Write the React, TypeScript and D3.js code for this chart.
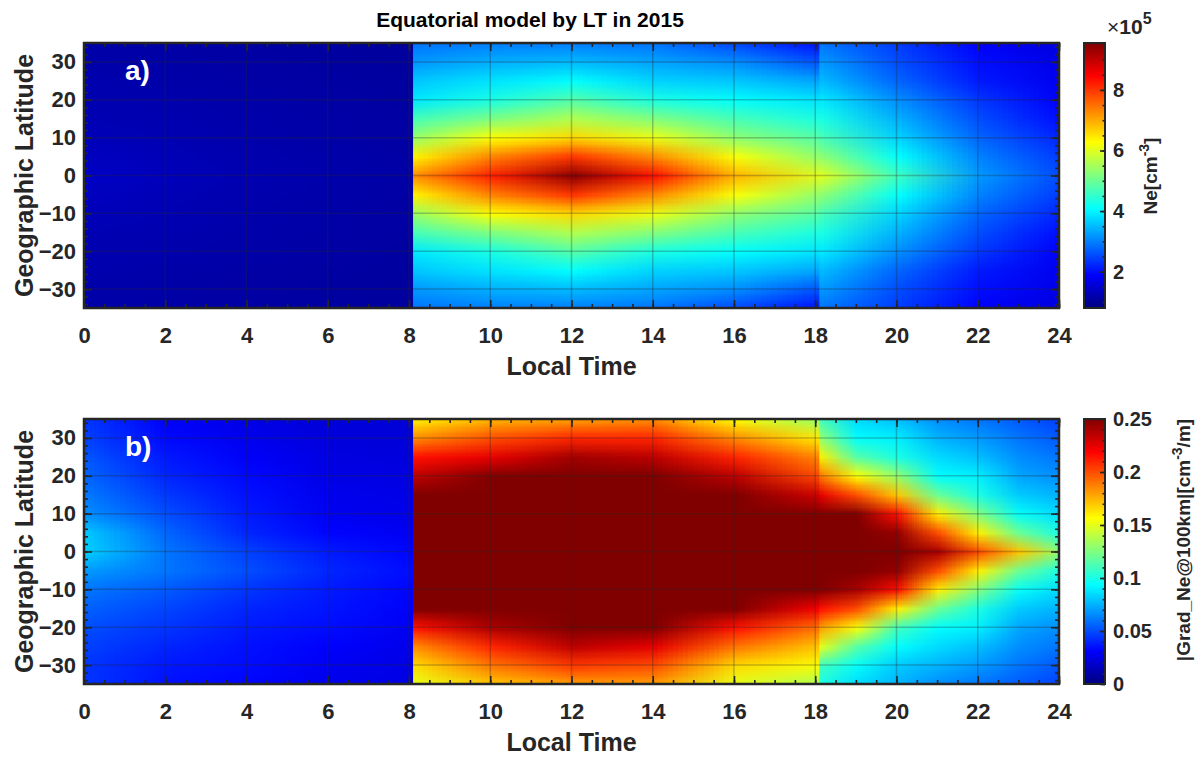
import React, { useEffect, useRef } from "react";
import * as d3 from "d3";

// latitude of each row in the value columns below (top to bottom)
const latNodes = [35, 30, 25, 20, 15, 10, 5, 0, -5, -10, -15, -20, -25, -30, -35];

// a) Ne [x1e5 cm^-3], one column per local time node
const neNightLT = [0, 4, 8.1];
const neNight = [
  [1.15, 1.17, 1.2, 1.22, 1.25, 1.3, 1.35, 1.4, 1.35, 1.3, 1.25, 1.22, 1.2, 1.17, 1.15],
  [1.1, 1.12, 1.13, 1.15, 1.17, 1.18, 1.2, 1.22, 1.2, 1.18, 1.17, 1.15, 1.13, 1.12, 1.1],
  [1.05, 1.06, 1.07, 1.08, 1.1, 1.1, 1.12, 1.13, 1.12, 1.1, 1.1, 1.08, 1.07, 1.06, 1.05],
];
const neDayLT = [8.1, 10, 12, 14, 16, 18.1];
const neDay = [
  [2.9, 3.2, 3.6, 3.9, 4.7, 5.4, 6.4, 7.26, 6.4, 5.4, 4.7, 3.9, 3.6, 3.2, 2.9],
  [2.98, 3.4, 3.85, 4.3, 5.17, 6.26, 7.35, 8.2, 7.35, 6.26, 5.17, 4.3, 3.85, 3.4, 2.98],
  [2.98, 3.5, 4.1, 4.8, 5.6, 6.6, 8.0, 9.45, 8.0, 6.6, 5.6, 4.8, 4.1, 3.5, 2.98],
  [2.9, 3.3, 3.7, 4.3, 5.2, 6.1, 7.26, 8.3, 7.26, 6.1, 5.2, 4.3, 3.7, 3.3, 2.9],
  [2.5, 3.1, 3.6, 4.1, 4.7, 5.3, 6.2, 6.9, 6.2, 5.3, 4.7, 4.1, 3.6, 3.1, 2.5],
  [2.0, 2.6, 3.3, 3.85, 4.3, 4.8, 5.3, 6.0, 5.3, 4.8, 4.3, 3.85, 3.3, 2.6, 2.0],
];
const neEveLT = [18.1, 20, 22, 24];
const neEve = [
  [2.9, 3.2, 3.5, 3.9, 4.3, 4.7, 5.3, 6.0, 5.3, 4.7, 4.3, 3.9, 3.5, 3.2, 2.9],
  [2.4, 2.55, 2.75, 3.1, 3.4, 3.7, 4.1, 4.6, 4.1, 3.7, 3.4, 3.1, 2.75, 2.55, 2.4],
  [1.85, 2.0, 2.1, 2.35, 2.55, 2.75, 3.0, 3.2, 3.0, 2.75, 2.55, 2.35, 2.1, 2.0, 1.85],
  [1.6, 1.7, 1.75, 1.85, 2.0, 2.2, 2.4, 2.55, 2.4, 2.2, 2.0, 1.85, 1.75, 1.7, 1.6],
];

// b) |Grad_Ne@100km| [cm^-3/m]
const gradNightLT = [0, 2, 4, 6, 8.1];
const gradNight = [
  [0.044, 0.047, 0.052, 0.056, 0.061, 0.066, 0.08, 0.082, 0.069, 0.06, 0.055, 0.05, 0.047, 0.044, 0.044],
  [0.03, 0.033, 0.037, 0.04, 0.045, 0.05, 0.056, 0.06, 0.06, 0.053, 0.048, 0.044, 0.04, 0.037, 0.035],
  [0.025, 0.027, 0.03, 0.033, 0.035, 0.0375, 0.04, 0.047, 0.05, 0.044, 0.04, 0.0375, 0.035, 0.034, 0.032],
  [0.022, 0.023, 0.024, 0.025, 0.027, 0.028, 0.032, 0.0375, 0.04, 0.0375, 0.036, 0.034, 0.031, 0.028, 0.027],
  [0.022, 0.022, 0.023, 0.024, 0.025, 0.026, 0.028, 0.032, 0.034, 0.032, 0.03, 0.028, 0.026, 0.025, 0.024],
];
const gradDayLT = [8.1, 10, 12, 14, 16, 18.1];
const gradDay = [
  [0.16, 0.185, 0.215, 0.235, 0.26, 0.28, 0.3, 0.3, 0.3, 0.28, 0.25, 0.215, 0.185, 0.165, 0.15],
  [0.175, 0.2, 0.225, 0.255, 0.28, 0.3, 0.3, 0.3, 0.3, 0.3, 0.27, 0.24, 0.21, 0.19, 0.17],
  [0.18, 0.21, 0.242, 0.27, 0.3, 0.3, 0.3, 0.3, 0.3, 0.3, 0.3, 0.26, 0.235, 0.205, 0.18],
  [0.185, 0.21, 0.235, 0.26, 0.3, 0.3, 0.3, 0.3, 0.3, 0.3, 0.28, 0.255, 0.225, 0.2, 0.18],
  [0.156, 0.185, 0.21, 0.235, 0.26, 0.3, 0.3, 0.3, 0.3, 0.28, 0.25, 0.215, 0.19, 0.165, 0.15],
  [0.13, 0.16, 0.185, 0.2, 0.23, 0.26, 0.3, 0.3, 0.3, 0.25, 0.22, 0.19, 0.17, 0.155, 0.135],
];
const gradEveLT = [18.1, 19, 20, 21, 22, 23, 24];
const gradEve = [
  [0.11, 0.13, 0.16, 0.19, 0.225, 0.27, 0.3, 0.3, 0.3, 0.25, 0.215, 0.18, 0.15, 0.11, 0.1],
  [0.085, 0.094, 0.115, 0.156, 0.2, 0.25, 0.28, 0.3, 0.28, 0.24, 0.2, 0.155, 0.115, 0.095, 0.085],
  [0.078, 0.09, 0.1, 0.13, 0.17, 0.215, 0.245, 0.27, 0.245, 0.215, 0.16, 0.11, 0.094, 0.081, 0.075],
  [0.066, 0.075, 0.085, 0.094, 0.12, 0.16, 0.2, 0.24, 0.2, 0.16, 0.12, 0.094, 0.085, 0.075, 0.066],
  [0.06, 0.069, 0.078, 0.09, 0.1, 0.125, 0.16, 0.2, 0.16, 0.125, 0.1, 0.09, 0.078, 0.069, 0.06],
  [0.053, 0.06, 0.066, 0.072, 0.081, 0.095, 0.12, 0.17, 0.12, 0.095, 0.081, 0.072, 0.066, 0.06, 0.053],
  [0.047, 0.053, 0.06, 0.066, 0.075, 0.085, 0.1, 0.13, 0.1, 0.085, 0.075, 0.066, 0.06, 0.053, 0.047],
];

const neDomain = [0.8, 9.55];
const gradDomain = [0, 0.25];
const ltTicks = d3.range(0, 25, 2);
const latTicks = [-30, -20, -10, 0, 10, 20, 30];
const neTicks = [2, 4, 6, 8];
const gradTicks = [0, 0.05, 0.1, 0.15, 0.2, 0.25];

const W = 1203;
const H = 757;
const FONT = "'Liberation Sans', Arial, Helvetica, sans-serif";
const INK = "#262626";

// MATLAB jet
const jet = d3
  .scaleLinear<string>()
  .domain([0, 0.125, 0.375, 0.625, 0.875, 1])
  .range(["#000080", "#0000ff", "#00ffff", "#ffff00", "#ff0000", "#800000"])
  .interpolate(d3.interpolateRgb)
  .clamp(true);

const stripImage = (c0: number[], c1: number[], color: (v: number) => string) => {
  const cv = document.createElement("canvas");
  cv.width = 2;
  cv.height = c0.length;
  const ctx = cv.getContext("2d")!;
  const img = ctx.createImageData(2, c0.length);
  [c0, c1].forEach((col, i) =>
    col.forEach((v, j) => {
      const c = d3.rgb(color(v));
      const k = (j * 2 + i) * 4;
      img.data[k] = c.r;
      img.data[k + 1] = c.g;
      img.data[k + 2] = c.b;
      img.data[k + 3] = 255;
    })
  );
  ctx.putImageData(img, 0, 0);
  return cv.toDataURL();
};

const App = () => {
  const ref = useRef<SVGSVGElement>(null);

  useEffect(() => {
    const svg = d3.select(ref.current);
    svg.selectAll("*").remove();
    const defs = svg.append("defs");

    const x = d3.scaleLinear().domain([0, 24]).range([84, 1059]);

    const panels = [
      {
        id: "a",
        top: 43,
        bottom: 308,
        domain: neDomain,
        ticks: neTicks,
        minor: d3.range(1, 9.6, 0.5),
        segments: [
          { lt: neNightLT, cols: neNight },
          { lt: neDayLT, cols: neDay },
          { lt: neEveLT, cols: neEve },
        ],
      },
      {
        id: "b",
        top: 419,
        bottom: 684,
        domain: gradDomain,
        ticks: gradTicks,
        minor: d3.range(0, 0.2501, 0.01),
        segments: [
          { lt: gradNightLT, cols: gradNight },
          { lt: gradDayLT, cols: gradDay },
          { lt: gradEveLT, cols: gradEve },
        ],
      },
    ];

    panels.forEach((p) => {
      const y = d3.scaleLinear().domain([-35, 35]).range([p.bottom, p.top]);
      const norm = d3.scaleLinear().domain(p.domain).range([0, 1]);
      const color = (v: number) => jet(norm(v));
      const g = svg.append("g");

      // heatmap strips between adjacent LT nodes
      const half = (y(latNodes[1]) - y(latNodes[0])) / 2;
      p.segments.forEach((seg, si) => {
        seg.lt.slice(0, -1).forEach((lt0, i) => {
          const lt1 = seg.lt[i + 1];
          const xa = x(lt0);
          const xb = x(lt1);
          const w = xb - xa;
          const cid = `clip-${p.id}-${si}-${i}`;
          defs
            .append("clipPath")
            .attr("id", cid)
            .append("rect")
            .attr("x", xa)
            .attr("y", y(35))
            .attr("width", Math.min(w + 1, x(24) - xa))
            .attr("height", y(-35) - y(35));
          g.append("image")
            .attr("href", stripImage(seg.cols[i], seg.cols[i + 1], color))
            .attr("x", xa - w / 2)
            .attr("y", y(35) - half)
            .attr("width", w * 2)
            .attr("height", y(-35) - y(35) + 2 * half)
            .attr("preserveAspectRatio", "none")
            .attr("clip-path", `url(#${cid})`);
        });
      });

      // grid
      g.selectAll(".gx")
        .data(ltTicks.filter((d) => d > 0 && d < 24))
        .join("line")
        .attr("x1", (d) => x(d))
        .attr("x2", (d) => x(d))
        .attr("y1", p.top)
        .attr("y2", p.bottom)
        .attr("stroke", INK)
        .attr("stroke-opacity", 0.28)
        .attr("stroke-width", 1.5);
      g.selectAll(".gy")
        .data(latTicks)
        .join("line")
        .attr("x1", x(0))
        .attr("x2", x(24))
        .attr("y1", (d) => y(d))
        .attr("y2", (d) => y(d))
        .attr("stroke", INK)
        .attr("stroke-opacity", 0.28)
        .attr("stroke-width", 1.5);

      // axes (inward ticks on all sides)
      const style = (sel: any) => {
        sel.select(".domain").remove();
        sel.selectAll("line").attr("stroke", INK).attr("stroke-width", 1.6);
        sel
          .selectAll("text")
          .attr("fill", INK)
          .style("font-family", FONT)
          .style("font-size", "22px")
          .style("font-weight", "bold");
      };
      const h = p.bottom - p.top;
      const minorLT = d3.range(0, 24.01, 0.5);
      const minorLat = d3.range(-34, 35, 2);
      g.append("g")
        .attr("transform", `translate(0,${p.bottom})`)
        .call(d3.axisBottom(x).tickValues(ltTicks).tickSizeInner(-8).tickSizeOuter(0).tickPadding(19))
        .call(style);
      g.append("g")
        .attr("transform", `translate(0,${p.bottom})`)
        .call(d3.axisBottom(x).tickValues(minorLT).tickSize(-4).tickFormat(() => ""))
        .call(style);
      g.append("g")
        .attr("transform", `translate(0,${p.top})`)
        .call(d3.axisTop(x).tickValues(ltTicks).tickSize(-8).tickFormat(() => ""))
        .call(style);
      g.append("g")
        .attr("transform", `translate(0,${p.top})`)
        .call(d3.axisTop(x).tickValues(minorLT).tickSize(-4).tickFormat(() => ""))
        .call(style);
      g.append("g")
        .attr("transform", `translate(${x(0)},0)`)
        .call(d3.axisLeft(y).tickValues(latTicks).tickSizeInner(-8).tickSizeOuter(0).tickPadding(8))
        .call(style);
      g.append("g")
        .attr("transform", `translate(${x(0)},0)`)
        .call(d3.axisLeft(y).tickValues(minorLat).tickSize(-4).tickFormat(() => ""))
        .call(style);
      g.append("g")
        .attr("transform", `translate(${x(24)},0)`)
        .call(d3.axisRight(y).tickValues(latTicks).tickSize(-8).tickFormat(() => ""))
        .call(style);
      g.append("g")
        .attr("transform", `translate(${x(24)},0)`)
        .call(d3.axisRight(y).tickValues(minorLat).tickSize(-4).tickFormat(() => ""))
        .call(style);

      g.append("rect")
        .attr("x", x(0))
        .attr("y", p.top)
        .attr("width", x(24) - x(0))
        .attr("height", h)
        .attr("fill", "none")
        .attr("stroke", INK)
        .attr("stroke-width", 2.5);

      // panel letter
      g.append("text")
        .attr("x", 125)
        .attr("y", p.top + 37)
        .attr("fill", "#fff")
        .style("font-family", FONT)
        .style("font-size", "28px")
        .style("font-weight", "bold")
        .text(`${p.id})`);

      // axis labels
      g.append("text")
        .attr("transform", `translate(33,${(p.top + p.bottom) / 2}) rotate(-90)`)
        .attr("text-anchor", "middle")
        .attr("fill", INK)
        .style("font-family", FONT)
        .style("font-size", "25px")
        .style("font-weight", "bold")
        .text("Geographic Latitude");
      g.append("text")
        .attr("x", (x(0) + x(24)) / 2)
        .attr("y", p.bottom + 67)
        .attr("text-anchor", "middle")
        .attr("fill", INK)
        .style("font-family", FONT)
        .style("font-size", "25px")
        .style("font-weight", "bold")
        .text("Local Time");

      // colorbar
      const cbx0 = 1084;
      const cbx1 = 1105;
      const cy = d3.scaleLinear().domain(p.domain).range([p.bottom, p.top]);
      const gid = `cb-${p.id}`;
      const grad = defs
        .append("linearGradient")
        .attr("id", gid)
        .attr("x1", 0)
        .attr("y1", 1)
        .attr("x2", 0)
        .attr("y2", 0);
      grad
        .selectAll("stop")
        .data(jet.domain())
        .join("stop")
        .attr("offset", (d) => d)
        .attr("stop-color", (d) => jet(d));
      g.append("rect")
        .attr("x", cbx0)
        .attr("y", p.top)
        .attr("width", cbx1 - cbx0)
        .attr("height", h)
        .attr("fill", `url(#${gid})`);
      g.append("g")
        .attr("transform", `translate(${cbx1},0)`)
        .call(d3.axisRight(cy).tickValues(p.ticks).tickSizeInner(-5).tickSizeOuter(0).tickPadding(8).tickFormat((d: any) => String(d)))
        .call(style)
        .call((s: any) => s.selectAll("text").style("font-size", "20px"));
      g.append("g")
        .attr("transform", `translate(${cbx1},0)`)
        .call(d3.axisRight(cy).tickValues(p.minor).tickSize(-2.5).tickFormat(() => ""))
        .call(style);
      g.append("rect")
        .attr("x", cbx0)
        .attr("y", p.top)
        .attr("width", cbx1 - cbx0)
        .attr("height", h)
        .attr("fill", "none")
        .attr("stroke", INK)
        .attr("stroke-width", 2);
    });

    // colorbar labels
    const lblA = svg
      .append("text")
      .attr("transform", "translate(1157,176) rotate(-90)")
      .attr("text-anchor", "middle")
      .attr("fill", INK)
      .style("font-family", FONT)
      .style("font-size", "19px")
      .style("font-weight", "bold");
    lblA.append("tspan").text("Ne[cm");
    lblA.append("tspan").attr("dy", -8).style("font-size", "14px").text("-3");
    lblA.append("tspan").attr("dy", 8).text("]");

    const lblB = svg
      .append("text")
      .attr("transform", "translate(1190,540) rotate(-90)")
      .attr("text-anchor", "middle")
      .attr("fill", INK)
      .style("font-family", FONT)
      .style("font-size", "19px")
      .style("font-weight", "bold");
    lblB.append("tspan").text("|Grad_Ne@100km|[cm");
    lblB.append("tspan").attr("dy", -8).style("font-size", "14px").text("-3");
    lblB.append("tspan").attr("dy", 8).text("/m]");

    const exp = svg
      .append("text")
      .attr("x", 1107)
      .attr("y", 34)
      .attr("fill", INK)
      .style("font-family", FONT)
      .style("font-size", "21px");
    exp.append("tspan").text("\u00d7");
    exp.append("tspan").style("font-weight", "bold").text("10");
    exp.append("tspan").attr("dy", -10).style("font-size", "16px").style("font-weight", "bold").text("5");

    svg
      .append("text")
      .attr("x", 530)
      .attr("y", 27)
      .attr("text-anchor", "middle")
      .attr("fill", "#000")
      .style("font-family", FONT)
      .style("font-size", "21px")
      .style("font-weight", "bold")
      .text("Equatorial model by LT in 2015");
  }, []);

  return (
    <svg
      ref={ref}
      width={W}
      height={H}
      style={{ position: "absolute", left: 0, top: 0, background: "#fff" }}
    />
  );
};

export default App;
